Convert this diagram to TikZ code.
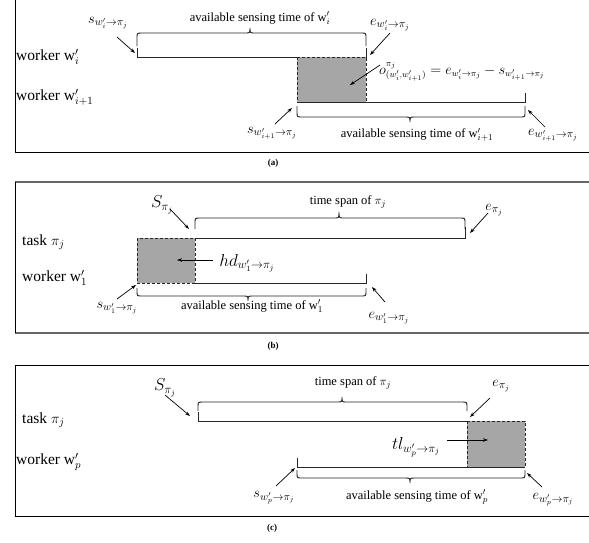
\documentclass[tikz,border=0pt]{standalone}
\usepackage{fontspec}
\setmainfont{Liberation Serif}
\usetikzlibrary{arrows.meta}
\tikzset{
  lbl/.style={inner sep=0pt, font=\fontsize{15}{18}\selectfont},
  bigl/.style={inner sep=0pt, font=\fontsize{17}{20}\selectfont},
  captxt/.style={inner sep=0pt, font=\fontsize{12.5}{15}\selectfont},
  rowtxt/.style={inner sep=0pt, anchor=west, font=\fontsize{15.5}{18}\selectfont},
  tline/.style={line width=1pt, draw=black!85},
  gbox/.style={fill=black!35, draw=black!85, dash pattern=on 3pt off 2pt, line width=0.9pt},
  arr/.style={-{Stealth[length=5pt,width=3.5pt]}, line width=0.7pt},
  brc/.style={line width=0.9pt, draw=black!85},
  frm/.style={line width=1pt},
  frmg/.style={line width=1.5pt, draw=black!60},
  subcap/.style={inner sep=0pt, font=\bfseries\fontsize{9}{11}\selectfont},
}
\newcommand\tkbrace[6]{%
  \draw[brc] (#1,#3) -- (#1,{#4+5*sign(#3-#4)}) .. controls (#1,#4) .. (#1+5,#4)
    -- (#6-5,#4) .. controls (#6,#4) .. (#6,#5) .. controls (#6,#4) .. (#6+5,#4)
    -- (#2-5,#4) .. controls (#2,#4) .. (#2,{#4+5*sign(#3-#4)}) -- (#2,#3);
}
\begin{document}
\begin{tikzpicture}[x=1pt,y=-1pt]
\useasboundingbox (0,0) rectangle (589,542);

% ================= (a) =================
\draw[frm] (15,0) -- (15,152) -- (589,152);
\node[rowtxt] (a_wi) at (16,57) {worker w$^{\prime}_{i}$};
\node[rowtxt] (a_wi1) at (16,97) {worker w$^{\prime}_{i+1}$};

\fill[black!35] (297,57) rectangle (366,102);
\draw[tline] (137,48) -- (137,57) -- (366,57) -- (366,48);
\draw[tline] (297,102) -- (525,102) -- (525,93);
\draw[gbox] (297,57) rectangle (366,102);

\tkbrace{137}{366}{46}{33}{28}{250}
\tkbrace{297}{525}{106}{117}{122}{410}
\node[captxt] (a_cap1) at (260,18) {available sensing time of w$^{\prime}_{i}$};
\node[captxt] (a_cap2) at (417,135) {available sensing time of w$^{\prime}_{i+1}$};

\node[lbl] (a_s1) at (108,23) {$s_{w^{\prime}_{i}\rightarrow\pi_{j}}$};
\node[lbl] (a_e1) at (390,25) {$e_{w^{\prime}_{i}\rightarrow\pi_{j}}$};
\node[lbl, anchor=west, font=\fontsize{13.5}{16}\selectfont] (a_o) at (379,72) {$o^{\pi_{j}}_{(w^{\prime}_{i},w^{\prime}_{i+1})}=e_{w^{\prime}_{i}\rightarrow\pi_{j}}-s_{w^{\prime}_{i+1}\rightarrow\pi_{j}}$};
\node[lbl] (a_s2) at (272,133) {$s_{w^{\prime}_{i+1}\rightarrow\pi_{j}}$};
\node[lbl] (a_e2) at (553,135) {$e_{w^{\prime}_{i+1}\rightarrow\pi_{j}}$};

\coordinate (a_s1f) at (117,37);  \coordinate (a_s1t) at (135,53);
\coordinate (a_e1f) at (390,33);  \coordinate (a_e1t) at (370,55);
\coordinate (a_of)  at (380,65);  \coordinate (a_ot)  at (350,85);
\coordinate (a_s2f) at (275,124); \coordinate (a_s2t) at (292,108);
\coordinate (a_e2f) at (545,127); \coordinate (a_e2t) at (528,110);
\draw[arr] (a_s1f) -- (a_s1t);
\draw[arr] (a_e1f) -- (a_e1t);
\draw[arr] (a_of) -- (a_ot);
\draw[arr] (a_s2f) -- (a_s2t);
\draw[arr] (a_e2f) -- (a_e2t);
\node[subcap] (a_lab) at (273,163) {(a)};

% ================= (b) =================
\draw[frmg] (589,182) -- (15,182);
\draw[frmg] (15,333) -- (589,333);
\draw[frm] (15,182) -- (15,333);
\node[rowtxt] (b_task) at (22,242) {task $\pi_{j}$};
\node[rowtxt] (b_w1) at (22,278) {worker w$^{\prime}_{1}$};

\fill[black!35] (137,238) rectangle (195,283);
\draw[tline] (195,238) -- (465,238) -- (465,227);
\draw[tline] (195,283) -- (366,283) -- (366,274);
\draw[gbox] (137,238) rectangle (195,283);

\tkbrace{195}{465}{229}{218}{212}{339}
\tkbrace{137}{366}{288}{296}{301}{248}
\node[captxt] (b_cap1) at (348,202) {time span of $\pi_{j}$};
\node[captxt] (b_cap2) at (252,306) {available sensing time of w$^{\prime}_{1}$};

\node[bigl] (b_S) at (162,205) {$S_{\pi_{j}}$};
\node[bigl] (b_hd) at (247,263) {$hd_{w^{\prime}_{1}\rightarrow\pi_{j}}$};
\node[lbl] (b_s) at (117,308) {$s_{w^{\prime}_{1}\rightarrow\pi_{j}}$};
\node[lbl] (b_epi) at (494,210) {$e_{\pi_{j}}$};
\node[lbl] (b_e) at (389,318) {$e_{w^{\prime}_{1}\rightarrow\pi_{j}}$};

\coordinate (b_Sf) at (170,209);  \coordinate (b_St) at (189,229);
\coordinate (b_hdf) at (213,260); \coordinate (b_hdt) at (177,260);
\coordinate (b_sf) at (117,299);  \coordinate (b_st) at (136,285);
\coordinate (b_epf) at (488,213); \coordinate (b_ept) at (470,233);
\coordinate (b_ef) at (385,302);  \coordinate (b_et) at (372,287);
\draw[arr] (b_Sf) -- (b_St);
\draw[arr] (b_hdf) -- (b_hdt);
\draw[arr] (b_sf) -- (b_st);
\draw[arr] (b_epf) -- (b_ept);
\draw[arr] (b_ef) -- (b_et);
\node[subcap] (b_lab) at (273,346) {(b)};

% ================= (c) =================
\draw[frm] (589,365) -- (15,365) -- (15,516) -- (589,516);
\node[rowtxt] (c_task) at (22,420) {task $\pi_{j}$};
\node[rowtxt] (c_wp) at (16,462) {worker w$^{\prime}_{p}$};

\fill[black!35] (467,421) rectangle (525,467);
\draw[tline] (198,412) -- (198,421) -- (467,421);
\draw[tline] (297,458) -- (297,467) -- (525,467);
\draw[gbox] (467,421) rectangle (525,467);

\tkbrace{198}{467}{411}{402}{397}{342}
\tkbrace{297}{525}{470}{478}{483}{410}
\node[captxt] (c_cap1) at (353,383) {time span of $\pi_{j}$};
\node[captxt] (c_cap2) at (417,497) {available sensing time of w$^{\prime}_{p}$};

\node[bigl] (c_S) at (165,388) {$S_{\pi_{j}}$};
\node[lbl] (c_epi) at (501,386) {$e_{\pi_{j}}$};
\node[bigl] (c_tl) at (416,447) {$tl_{w^{\prime}_{p}\rightarrow\pi_{j}}$};
\node[lbl] (c_s) at (274,498) {$s_{w^{\prime}_{p}\rightarrow\pi_{j}}$};
\node[lbl] (c_e) at (553,500) {$e_{w^{\prime}_{p}\rightarrow\pi_{j}}$};

\coordinate (c_Sf) at (165,395);  \coordinate (c_St) at (190,416);
\coordinate (c_epf) at (490,398); \coordinate (c_ept) at (470,417);
\coordinate (c_tlf) at (447,440); \coordinate (c_tlt) at (488,440);
\coordinate (c_sf) at (276,486);  \coordinate (c_st) at (295,468);
\coordinate (c_ef) at (542,487);  \coordinate (c_et) at (527,473);
\draw[arr] (c_Sf) -- (c_St);
\draw[arr] (c_epf) -- (c_ept);
\draw[arr] (c_tlf) -- (c_tlt);
\draw[arr] (c_sf) -- (c_st);
\draw[arr] (c_ef) -- (c_et);
\node[subcap] (c_lab) at (272,528) {(c)};
\end{tikzpicture}
\end{document}
